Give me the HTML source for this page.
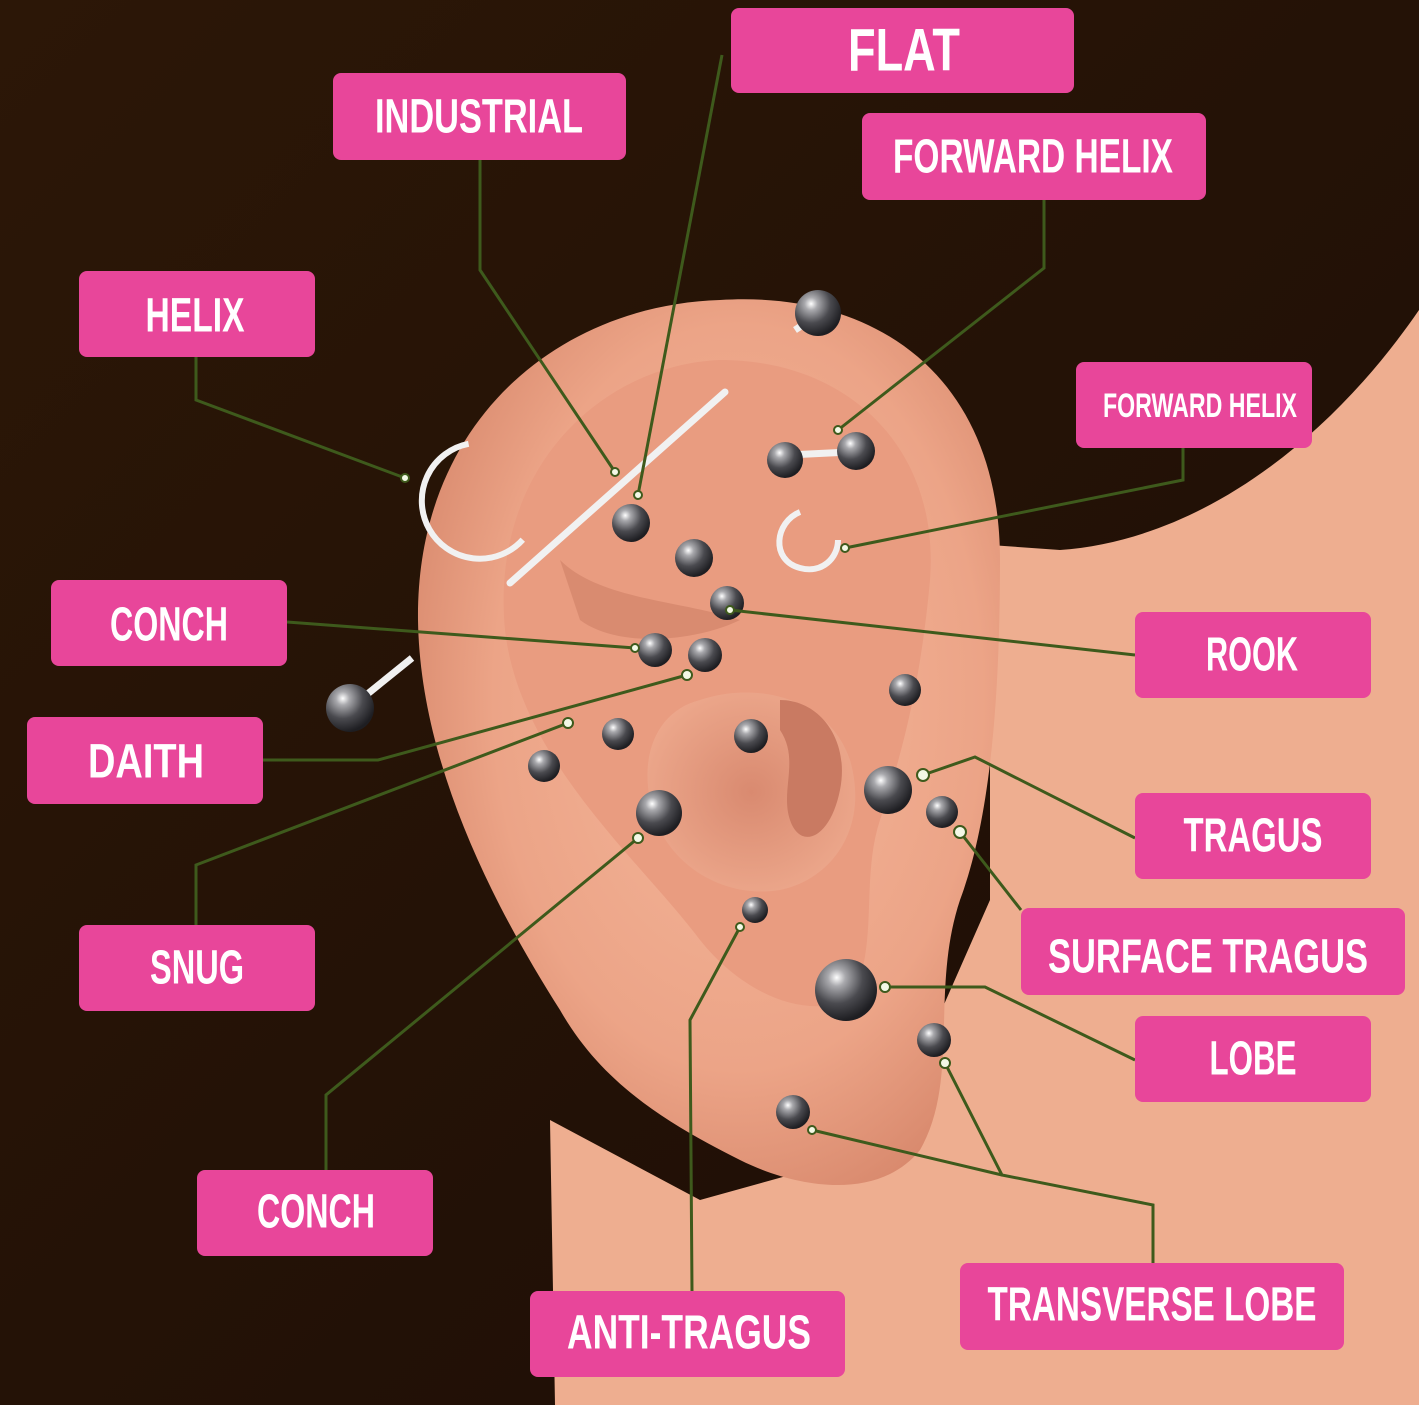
<!DOCTYPE html>
<html><head><meta charset="utf-8"><style>
html,body{margin:0;padding:0;width:1419px;height:1405px;overflow:hidden;background:#231206;}
svg{display:block}
.t{font-family:"Liberation Sans",sans-serif;font-weight:bold;fill:#fff;text-anchor:middle;dominant-baseline:central}
</style></head><body>
<svg width="1419" height="1405" viewBox="0 0 1419 1405" xmlns="http://www.w3.org/2000/svg">
<defs>
<linearGradient id="bg" x1="0" y1="0" x2="1" y2="1">
<stop offset="0" stop-color="#2c1707"/><stop offset="1" stop-color="#1c0d05"/></linearGradient>
<radialGradient id="ear" cx="0.55" cy="0.45" r="0.6">
<stop offset="0" stop-color="#f4b79b"/><stop offset="0.7" stop-color="#eca487"/><stop offset="1" stop-color="#d98a6e"/></radialGradient>
<radialGradient id="inner" cx="0.5" cy="0.5" r="0.6">
<stop offset="0" stop-color="#d98a70"/><stop offset="1" stop-color="#eeaa8e"/></radialGradient>
<radialGradient id="ball" cx="0.35" cy="0.3" r="0.7">
<stop offset="0" stop-color="#ffffff"/><stop offset="0.2" stop-color="#a9a9ad"/><stop offset="0.6" stop-color="#4a4a4f"/><stop offset="1" stop-color="#1e1e22"/></radialGradient>
</defs>
<rect width="1419" height="1405" fill="url(#bg)"/>
<path d="M1419,310 C1330,440 1200,540 1060,550 L990,545 L990,900 L880,1150 L700,1200 L550,1120 L555,1405 L1419,1405 Z" fill="#eeae90"/>
<path d="M720,300 C880,290 1000,380 1000,560 C1000,700 990,820 960,900 C930,990 960,1080 920,1150 C880,1200 800,1190 740,1160 C660,1120 600,1080 560,1010 C490,900 420,760 418,620 C416,420 560,305 720,300 Z" fill="url(#ear)"/>
<path d="M720,360 C850,360 940,450 930,580 C920,690 900,760 880,820 C860,880 880,950 850,1000 C800,1020 740,990 700,940 C640,860 520,760 505,630 C490,470 600,365 720,360 Z" fill="#e99c80"/>
<path d="M700,700 C760,680 830,700 850,760 C870,830 830,880 780,890 C720,900 660,860 650,800 C640,750 660,710 700,700 Z" fill="url(#inner)"/>
<path d="M780,700 C820,700 850,740 840,790 C830,840 800,850 790,820 C780,790 800,760 780,730 Z" fill="#c97a62"/>
<path d="M560,560 C600,600 680,600 740,620 C700,640 620,650 580,620 Z" fill="#d98b70"/>
<path d="M528,530 A58,58 0 1 1 458,445" fill="none" stroke="#f1f1f1" stroke-width="6" transform="rotate(10 470 505)"/>
<line x1="510" y1="583" x2="725" y2="392" stroke="#f1f1f1" stroke-width="7" stroke-linecap="round"/>
<path d="M800,512 C775,522 770,560 800,568 C822,574 838,558 838,540" fill="none" stroke="#f1f1f1" stroke-width="6"/>
<line x1="788" y1="455" x2="850" y2="452" stroke="#f1f1f1" stroke-width="7"/>
<line x1="795" y1="330" x2="818" y2="315" stroke="#f1f1f1" stroke-width="7"/>
<line x1="360" y1="700" x2="412" y2="658" stroke="#f1f1f1" stroke-width="7"/>
<g fill="url(#ball)">
<circle cx="818" cy="313" r="23"/><circle cx="785" cy="460" r="18"/><circle cx="856" cy="451" r="19"/>
<circle cx="631" cy="523" r="19"/><circle cx="694" cy="558" r="19"/><circle cx="727" cy="603" r="17"/>
<circle cx="655" cy="650" r="17"/><circle cx="705" cy="655" r="17"/><circle cx="350" cy="708" r="24"/>
<circle cx="905" cy="690" r="16"/><circle cx="618" cy="734" r="16"/><circle cx="751" cy="736" r="17"/>
<circle cx="544" cy="766" r="16"/><circle cx="888" cy="790" r="24"/><circle cx="942" cy="812" r="16"/>
<circle cx="659" cy="813" r="23"/><circle cx="755" cy="910" r="13"/><circle cx="846" cy="990" r="31"/>
<circle cx="934" cy="1040" r="17"/><circle cx="793" cy="1112" r="17"/>
</g>
<g fill="none" stroke="#3e5a1c" stroke-width="3">
<polyline points="480,160 480,270 615,472"/>
<polyline points="722,55 638,495"/>
<polyline points="1044,200 1044,268 838,430"/>
<polyline points="196,357 196,400 405,478"/>
<polyline points="1183,448 1183,480 845,548"/>
<polyline points="287,622 635,648"/>
<polyline points="1135,655 730,610"/>
<polyline points="263,760 378,760 687,675"/>
<polyline points="196,925 196,865 568,723"/>
<polyline points="1135,838 975,757 923,775"/>
<polyline points="1021,910 960,832"/>
<polyline points="1135,1060 985,987 885,987"/>
<polyline points="326,1170 326,1095 638,838"/>
<polyline points="692,1291 690,1020 740,927"/>
<polyline points="1153,1263 1153,1205 1002,1175 945,1063"/>
<polyline points="1002,1175 812,1130"/>
</g>
<g fill="#f3f8e6" stroke="#3e5a1c" stroke-width="2">
<circle cx="615" cy="472" r="4"/><circle cx="638" cy="495" r="4"/><circle cx="838" cy="430" r="4"/>
<circle cx="405" cy="478" r="4"/><circle cx="845" cy="548" r="4"/><circle cx="635" cy="648" r="4"/>
<circle cx="730" cy="610" r="4"/><circle cx="687" cy="675" r="5"/><circle cx="568" cy="723" r="5"/>
<circle cx="923" cy="775" r="6"/><circle cx="960" cy="832" r="6"/><circle cx="885" cy="987" r="5"/>
<circle cx="638" cy="838" r="5"/><circle cx="740" cy="927" r="4"/><circle cx="945" cy="1063" r="5"/>
<circle cx="812" cy="1130" r="4"/>
</g>
<g fill="#e8469a">
<rect x="731" y="8" width="343" height="85" rx="8"/>
<rect x="333" y="73" width="293" height="87" rx="8"/>
<rect x="862" y="113" width="344" height="87" rx="8"/>
<rect x="79" y="271" width="236" height="86" rx="8"/>
<rect x="1076" y="362" width="236" height="86" rx="8"/>
<rect x="51" y="580" width="236" height="86" rx="8"/>
<rect x="1135" y="612" width="236" height="86" rx="8"/>
<rect x="27" y="717" width="236" height="87" rx="8"/>
<rect x="1135" y="793" width="236" height="86" rx="8"/>
<rect x="79" y="925" width="236" height="86" rx="8"/>
<rect x="1021" y="908" width="384" height="87" rx="8"/>
<rect x="1135" y="1016" width="236" height="86" rx="8"/>
<rect x="197" y="1170" width="236" height="86" rx="8"/>
<rect x="960" y="1263" width="384" height="87" rx="8"/>
<rect x="530" y="1291" width="315" height="86" rx="8"/>
</g>
<text class="t" x="904" y="50" font-size="60" textLength="112" lengthAdjust="spacingAndGlyphs">FLAT</text>
<text class="t" x="479" y="117" font-size="48" textLength="208" lengthAdjust="spacingAndGlyphs">INDUSTRIAL</text>
<text class="t" x="1033" y="157" font-size="48" textLength="280" lengthAdjust="spacingAndGlyphs">FORWARD HELIX</text>
<text class="t" x="195" y="316" font-size="48" textLength="99" lengthAdjust="spacingAndGlyphs">HELIX</text>
<text class="t" x="1200" y="406" font-size="34" textLength="194" lengthAdjust="spacingAndGlyphs">FORWARD HELIX</text>
<text class="t" x="169" y="625" font-size="48" textLength="118" lengthAdjust="spacingAndGlyphs">CONCH</text>
<text class="t" x="1252" y="655" font-size="48" textLength="92" lengthAdjust="spacingAndGlyphs">ROOK</text>
<text class="t" x="146" y="762" font-size="48" textLength="116" lengthAdjust="spacingAndGlyphs">DAITH</text>
<text class="t" x="1253" y="836" font-size="48" textLength="139" lengthAdjust="spacingAndGlyphs">TRAGUS</text>
<text class="t" x="197" y="968" font-size="48" textLength="94" lengthAdjust="spacingAndGlyphs">SNUG</text>
<text class="t" x="1208" y="957" font-size="48" textLength="320" lengthAdjust="spacingAndGlyphs">SURFACE TRAGUS</text>
<text class="t" x="1253" y="1059" font-size="48" textLength="87" lengthAdjust="spacingAndGlyphs">LOBE</text>
<text class="t" x="316" y="1212" font-size="48" textLength="118" lengthAdjust="spacingAndGlyphs">CONCH</text>
<text class="t" x="1152" y="1305" font-size="48" textLength="329" lengthAdjust="spacingAndGlyphs">TRANSVERSE LOBE</text>
<text class="t" x="689" y="1333" font-size="48" textLength="244" lengthAdjust="spacingAndGlyphs">ANTI-TRAGUS</text>
</svg>
</body></html>
